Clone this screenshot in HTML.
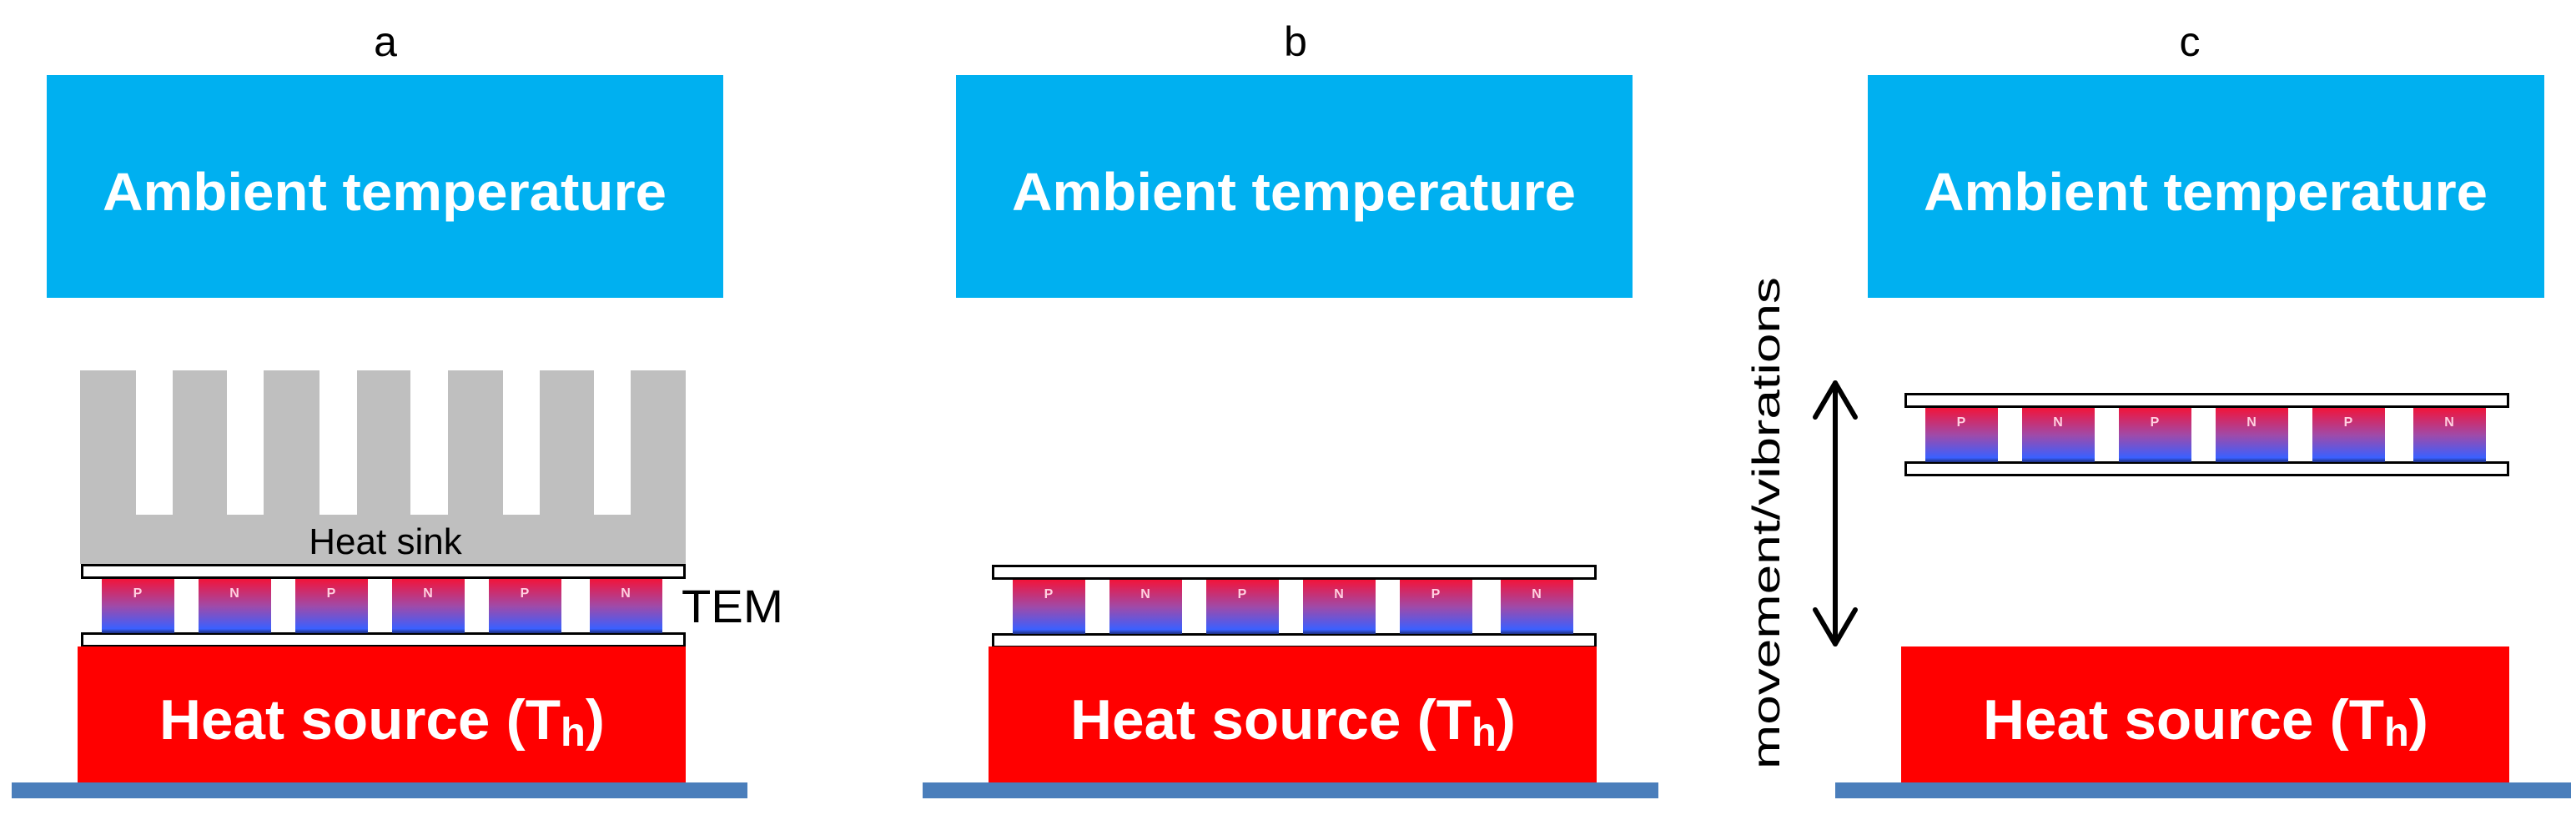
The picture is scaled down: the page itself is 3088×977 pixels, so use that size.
<!DOCTYPE html>
<html><head><meta charset="utf-8"><style>html,body{margin:0;padding:0;background:#fff}svg{display:block}</style></head>
<body>
<svg width="3088" height="977" viewBox="0 0 3088 977" xmlns="http://www.w3.org/2000/svg">
<defs>
<linearGradient id="g" x1="0" y1="0" x2="0" y2="1">
<stop offset="0" stop-color="#f2143a"/><stop offset="0.5" stop-color="#a04aa8"/><stop offset="0.92" stop-color="#3a60ff"/><stop offset="1" stop-color="#1c2e80"/>
</linearGradient>
<g id="tem">
<rect x="1.5" y="1.5" width="722" height="15" fill="#fff" stroke="#000" stroke-width="3"/>
<rect x="1.5" y="83.5" width="722" height="15" fill="#fff" stroke="#000" stroke-width="3"/>
<g font-family="Liberation Sans, sans-serif" font-weight="bold" font-size="16" fill="#ffd0e0" text-anchor="middle">
<rect x="25" y="18" width="87" height="65" fill="url(#g)"/><text x="68" y="40">P</text>
<rect x="141" y="18" width="87" height="65" fill="url(#g)"/><text x="184" y="40">N</text>
<rect x="257" y="18" width="87" height="65" fill="url(#g)"/><text x="300" y="40">P</text>
<rect x="373" y="18" width="87" height="65" fill="url(#g)"/><text x="416" y="40">N</text>
<rect x="489" y="18" width="87" height="65" fill="url(#g)"/><text x="532" y="40">P</text>
<rect x="610" y="18" width="87" height="65" fill="url(#g)"/><text x="653" y="40">N</text>
</g>
</g>
<g id="amb">
<rect x="56" y="90" width="811" height="267" fill="#00b0f0"/>
<text x="461" y="252" text-anchor="middle" font-family="Liberation Sans, sans-serif" font-weight="bold" font-size="64" fill="#fff" textLength="676" lengthAdjust="spacingAndGlyphs">Ambient temperature</text>
</g>
<g id="src">
<rect x="93" y="775" width="729" height="163" fill="#ff0000"/>
<rect x="14" y="938" width="882" height="19" fill="#4a7ebb"/>
<text x="458" y="886" text-anchor="middle" font-family="Liberation Sans, sans-serif" font-weight="bold" font-size="68" fill="#fff" textLength="534" lengthAdjust="spacingAndGlyphs">Heat source (T<tspan font-size="48" dy="8">h</tspan><tspan dy="-8">)</tspan></text>
</g>
</defs>

<g font-family="Liberation Sans, sans-serif" font-size="50" fill="#000" text-anchor="middle">
<text x="462" y="67">a</text><text x="1553" y="67">b</text><text x="2625" y="67">c</text>
</g>

<!-- panel a -->
<use href="#amb"/>
<path d="M96 444 H163 V617 H207 V444 H272 V617 H316 V444 H383 V617 H428 V444 H492 V617 H537 V444 H603 V617 H647 V444 H712 V617 H756 V444 H822 V676 H96 Z" fill="#bfbfbf"/>
<text x="462" y="664" text-anchor="middle" font-family="Liberation Sans, sans-serif" font-size="44" fill="#000">Heat sink</text>
<use href="#tem" x="97" y="676"/>
<text x="817" y="746" font-family="Liberation Sans, sans-serif" font-size="56" fill="#000" textLength="122" lengthAdjust="spacingAndGlyphs">TEM</text>
<use href="#src"/>

<!-- panel b -->
<use href="#amb" x="1090"/>
<use href="#tem" x="1189" y="677"/>
<use href="#src" x="1092"/>

<!-- panel c -->
<use href="#amb" x="2183"/>
<use href="#tem" x="2283" y="471"/>
<use href="#src" x="2186"/>
<g stroke="#000" stroke-width="6" fill="none" stroke-linecap="round" stroke-linejoin="round">
<line x1="2200" y1="459" x2="2200" y2="772"/>
<polyline points="2176,500 2200,459 2224,500"/>
<polyline points="2176,731 2200,772 2224,731"/>
</g>
<text transform="translate(2133,627) rotate(-90)" text-anchor="middle" font-family="Liberation Sans, sans-serif" font-size="46" fill="#000" textLength="590" lengthAdjust="spacingAndGlyphs">movement/vibrations</text>
</svg>
</body></html>
